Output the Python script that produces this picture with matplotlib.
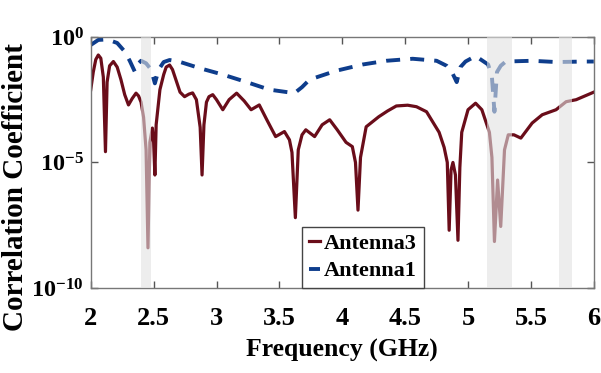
import numpy as np
import matplotlib
matplotlib.use("Agg")
import matplotlib.pyplot as plt

# ---- data (log10 of correlation coefficient) ----
freq_a3 = [2.00, 2.02, 2.04, 2.06, 2.08, 2.10, 2.117, 2.13, 2.15, 2.18, 2.21, 2.24, 2.27,
           2.30, 2.33, 2.36, 2.38, 2.40, 2.42, 2.44, 2.455, 2.47, 2.49, 2.50, 2.51, 2.52,
           2.55, 2.58, 2.60, 2.627, 2.65, 2.68, 2.71, 2.746, 2.78, 2.81, 2.84, 2.87, 2.885,
           2.90, 2.92, 2.94, 2.97, 3.00, 3.05, 3.10, 3.16, 3.22, 3.275, 3.34, 3.40, 3.47,
           3.54, 3.58, 3.60, 3.627, 3.65, 3.68, 3.71, 3.78, 3.84, 3.90, 3.96, 4.03, 4.08,
           4.105, 4.125, 4.145, 4.19, 4.29, 4.36, 4.43, 4.52, 4.59, 4.67, 4.77, 4.81, 4.835,
           4.85, 4.865, 4.88, 4.90, 4.92, 4.935, 4.95, 5.00, 5.06, 5.11, 5.17, 5.19, 5.21,
           5.235, 5.26, 5.29, 5.32, 5.365, 5.42, 5.51, 5.59, 5.70, 5.78, 5.86, 5.93, 6.00]
log_a3 = [-2.1, -1.4, -0.9, -0.72, -0.85, -1.6, -4.57, -1.8, -1.15, -0.98, -1.2, -1.7, -2.3,
          -2.71, -2.45, -2.24, -2.35, -2.6, -3.2, -4.5, -8.4, -4.2, -3.63, -4.2, -5.5, -3.5,
          -2.1, -1.5, -1.2, -1.12, -1.3, -1.75, -2.2, -2.38, -2.28, -2.23, -2.5, -3.6, -5.5,
          -3.5, -2.6, -2.38, -2.3, -2.5, -2.9, -2.5, -2.24, -2.55, -2.9, -2.71, -3.3, -3.97,
          -3.77, -4.1, -4.6, -7.2, -4.5, -3.9, -3.7, -3.97, -3.5, -3.3, -3.7, -4.2, -4.37,
          -5.0, -6.9, -4.8, -3.58, -3.18, -2.95, -2.75, -2.72, -2.78, -2.98, -3.8, -4.4, -5.0,
          -7.7, -5.3, -5.0, -5.5, -8.1, -5.2, -3.8, -2.9, -2.64, -2.9, -3.8, -4.8, -8.15,
          -5.7, -7.55, -4.5, -3.9, -3.9, -4.03, -3.43, -3.1, -2.9, -2.58, -2.5, -2.35, -2.2]

freq_a1 = [2.00, 2.06, 2.13, 2.21, 2.27, 2.31, 2.35, 2.37, 2.40, 2.44, 2.48, 2.51, 2.54,
           2.58, 2.627, 2.70, 2.87, 3.05, 3.24, 3.42, 3.62, 3.68, 3.74, 3.95, 4.16, 4.35,
           4.56, 4.75, 4.83, 4.87, 4.91, 4.94, 4.98, 5.06, 5.16, 5.19, 5.21, 5.23, 5.26,
           5.30, 5.51, 5.70, 5.94, 6.00]
log_a1 = [-0.32, -0.12, -0.1, -0.24, -0.58, -0.95, -1.38, -1.1, -0.95, -1.05, -1.3, -1.85, -1.3,
          -1.0, -0.92, -0.98, -1.25, -1.5, -1.8, -2.1, -2.24, -2.0, -1.7, -1.35, -1.1, -0.95,
          -0.87, -0.95, -1.15, -1.38, -1.8, -1.2, -0.98, -0.76, -1.1, -1.6, -2.98, -1.4, -1.15,
          -0.98, -0.95, -1.0, -0.98, -0.98]

bands = [(2.40, 2.48), (5.15, 5.35), (5.725, 5.825)]
xticks = [2, 2.5, 3, 3.5, 4, 4.5, 5, 5.5, 6]
xticklabels = ["2", "2.5", "3", "3.5", "4", "4.5", "5", "5.5", "6"]
yticks = [1e-10, 1e-5, 1e0]
yticklabels = [r"$\mathbf{10^{-10}}$", r"$\mathbf{10^{-5}}$", r"$\mathbf{10^{0}}$"]

# ---- style ----
plt.rcParams["font.family"] = ["Liberation Serif", "DejaVu Serif"]
plt.rcParams["font.weight"] = "bold"
plt.rcParams["mathtext.fontset"] = "custom"
plt.rcParams["mathtext.rm"] = "Liberation Serif:bold"
plt.rcParams["mathtext.bf"] = "Liberation Serif:bold"
plt.rcParams["mathtext.it"] = "Liberation Serif:bold:italic"

fig = plt.figure(figsize=(6.01, 3.73), dpi=100)
ax = fig.add_axes([0.151, 0.228, 0.837, 0.673])

ax.plot(freq_a3, 10 ** np.array(log_a3), color="#6a0d1a", lw=2.3, label="Antenna3", zorder=2,
        solid_joinstyle="round")
ax.plot(freq_a1, 10 ** np.array(log_a1), color="#0e3d8c", lw=2.8, linestyle=(0, (3.6, 2.6)),
        label="Antenna1", zorder=2)

for lo, hi in bands:
    ax.axvspan(lo, hi, color="#e2e2e2", alpha=0.6, lw=0, zorder=3)

ax.set_yscale("log")
ax.set_xlim(2, 6)
ax.set_ylim(1e-10, 1)
ax.set_xticks(xticks)
ax.set_xticklabels(xticklabels)
ax.set_yticks(yticks)
ax.set_yticklabels(yticklabels)
ax.minorticks_off()
ax.tick_params(axis="x", direction="in", top=True, length=5, width=1, labelsize=19, pad=14,
               color="#555555")
ax.tick_params(axis="y", direction="in", right=True, length=5, width=1, labelsize=17.5, pad=5,
               color="#555555")
for s in ax.spines.values():
    s.set_color("#777777")
    s.set_linewidth(1.0)

ax.set_xlabel("Frequency (GHz)", fontsize=18.5, fontweight="bold", labelpad=6)
ax.set_ylabel("Correlation Coefficient", fontsize=21, fontweight="bold")
ax.yaxis.set_label_coords(-0.122, 0.40)

leg = ax.legend(loc="lower left", bbox_to_anchor=(0.42, 0.0), borderaxespad=0, fontsize=16,
                handlelength=0.5, handletextpad=0.2, borderpad=0.3, labelspacing=0.3,
                fancybox=False, framealpha=1)
leg.get_frame().set_edgecolor("#444444")
leg.get_frame().set_linewidth(1.0)
leg.set_zorder(5)

fig.savefig("out.png", dpi=100)
